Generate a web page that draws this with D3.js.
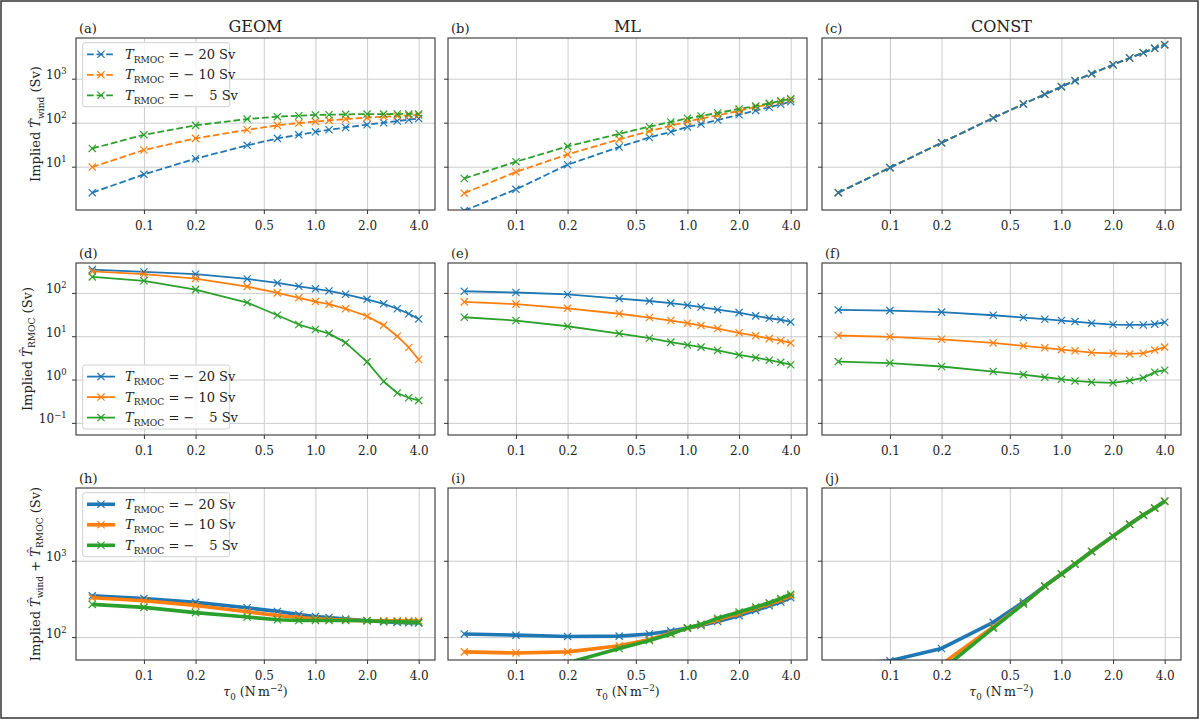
<!DOCTYPE html>
<html lang="en">
<head>
    <meta charset="UTF-8">
    <title>Implied transports</title>
    <script src="https://d3js.org/d3.v7.min.js"></script>
    <style>
        body { margin: 0; background: white; }
        svg { font-family: "DejaVu Serif", serif; }
        .grid line { stroke: #cccccc; stroke-width: 1; }
        .grid .domain { display: none; }
        .axis .domain { display: none; }
        .axis line { stroke: #333; stroke-width: 1; }
        .axis text { font-size: 12px; fill: #222; font-family: "DejaVu Serif", serif; }
    </style>
</head>
<body>
<svg id="fig" width="1200" height="720"></svg>
<script>
    // wind stress values (x axis)
    const tau = [0.05, 0.1, 0.2, 0.4, 0.6, 0.8, 1.0, 1.2, 1.5, 2.0, 2.5, 3.0, 3.5, 4.0];
    const xTicks = [0.1, 0.2, 0.5, 1.0, 2.0, 4.0];
    const rmocCases = ["\u2212\u00a020", "\u2212\u00a010", "\u2212\u00a0\u2007\u20095"];
    const colTitles = ["GEOM", "ML", "CONST"];
    const panelLabels = [["(a)", "(b)", "(c)"], ["(d)", "(e)", "(f)"], ["(h)", "(i)", "(j)"]];
    const yTicks = [[10, 100, 1000], [0.1, 1, 10, 100], [100, 1000]];

    // each panel: three series, T_RMOC = -20, -10, -5 Sv
    const geomWind = [
        [2.57, 6.7, 15.2, 30.6, 44, 53, 62, 69, 78, 90, 100, 109, 117, 124],
        [9.8, 24, 44, 69, 87, 98, 106, 113, 121, 130, 137, 142, 147, 150],
        [26, 53, 87, 121, 137, 144, 150, 152, 155, 157, 157, 158, 158, 158]
    ];
    const mlWind = [
        [1.0, 3.06, 11.1, 28, 46, 62, 80, 93, 115, 152, 190, 224, 262, 300],
        [2.5, 7.6, 19, 42, 64, 85, 106, 124, 147, 185, 228, 262, 300, 333],
        [5.4, 13, 29, 56, 81, 104, 126, 142, 166, 205, 240, 276, 316, 350]
    ];
    const constWind = [
        [2.57, 9.5, 35, 128, 266, 442, 658, 901, 1300, 2080, 2950, 3890, 4900, 5930],
        [2.57, 9.5, 35, 128, 266, 442, 658, 901, 1300, 2080, 2950, 3890, 4900, 5930],
        [2.57, 9.5, 35, 128, 266, 442, 658, 901, 1300, 2080, 2950, 3890, 4900, 5930]
    ];
    const geomRmoc = [
        [345, 305, 270, 210, 170, 142, 124, 111, 93, 71, 56, 43, 33, 25],
        [315, 270, 214, 140, 100, 77, 63, 55, 43, 29, 18, 10, 5.5, 2.9],
        [234, 190, 119, 60, 30.5, 18.6, 14.3, 11.5, 7.1, 2.56, 0.9, 0.49, 0.38, 0.33]
    ];
    const mlRmoc = [
        [109, 102, 92, 74, 65, 58, 52, 47, 41, 35, 29.5, 26, 24, 21.4],
        [62, 55, 44, 33, 27, 23, 20, 17.6, 15, 12, 10.2, 8.8, 7.9, 7.0],
        [27.4, 23, 17, 11.5, 9, 7.3, 6.3, 5.6, 4.7, 3.7, 3.2, 2.8, 2.5, 2.2]
    ];
    const constRmoc = [
        [40.5, 39, 36, 30.5, 27, 24.7, 23, 21.8, 20, 18.6, 18.2, 18.2, 19, 21],
        [10.4, 9.7, 8.5, 7.0, 6.0, 5.4, 4.9, 4.6, 4.2, 4.0, 3.9, 4.05, 4.8, 5.6],
        [2.6, 2.4, 2.0, 1.53, 1.3, 1.13, 1.02, 0.93, 0.87, 0.84, 0.95, 1.09, 1.48, 1.64]
    ];
    const geomTotal = [
        [347, 321, 285, 242, 217, 198, 186, 181, 172, 164, 159, 156, 154, 153],
        [327, 299, 260, 215, 192, 181, 174, 170, 167, 164, 164, 163, 163, 163],
        [268, 245, 209, 183, 169, 165, 165, 165, 165, 164, 160, 159, 158, 156]
    ];
    const mlTotal = [
        [110, 106, 102, 103, 110, 120, 131, 142, 160, 191, 224, 257, 288, 328],
        [64, 62, 64, 77, 93, 112, 131, 145, 168, 203, 238, 271, 306, 348],
        [32, 36, 46, 71, 90.5, 110, 132, 147, 177, 213, 248, 282, 321, 365]
    ];
    const constTotal = [
        [43, 49, 71, 156, 289, 466, 672, 906, 1320, 2100, 3000, 3980, 4900, 6030],
        [13, 19, 44, 136, 275, 466, 672, 906, 1320, 2100, 3000, 3980, 4900, 6030],
        [5.2, 12, 37, 131, 272, 466, 672, 906, 1320, 2100, 3000, 3980, 4900, 6030]
    ];

    const panels = [
        [geomWind, mlWind, constWind],
        [geomRmoc, mlRmoc, constRmoc],
        [geomTotal, mlTotal, constTotal]
    ];

    const colors = ["#1f77b4", "#ff7f0e", "#2ca02c"];

    // layout
    const colX = [76, 448, 822], panelW = 359;
    const rowY = [38, 263, 488], panelH = 172;
    const xPad = Math.pow(10, 0.0951);
    const xDomain = [tau[0] / xPad, tau[tau.length - 1] * xPad];
    const yDomains = [
        [Math.pow(10, 0.016), Math.pow(10, 3.925)],
        [Math.pow(10, -1.28), Math.pow(10, 2.69)],
        [Math.pow(10, 1.7), Math.pow(10, 3.953)]
    ];
    const lineStyles = [
        { width: 1.8, dash: "6.7,2.9" },
        { width: 1.8, dash: null },
        { width: 3.6, dash: null }
    ];

    const svg = d3.select("#fig");

    // figure frame
    svg.append("rect")
        .attr("x", 1).attr("y", 1)
        .attr("width", 1197).attr("height", 717)
        .attr("fill", "white")
        .attr("stroke", "#333")
        .attr("stroke-width", 1.5);

    const defs = svg.append("defs");
    const xMark = "M-3.6,-3.6L3.6,3.6M-3.6,3.6L3.6,-3.6";

    // writes text with italic / sub / sup parts as tspans
    function mathText(el, parts, size) {
        let shift = 0;
        parts.forEach(([str, kind]) => {
            const target = kind === "sub" ? 0.28 * size : kind === "sup" ? -0.42 * size : 0;
            const ts = el.append("tspan").text(str).attr("dy", target - shift);
            if (kind === "sub" || kind === "sup") ts.attr("font-size", size * 0.7);
            if (kind === "i") ts.attr("font-style", "italic");
            shift = target;
        });
    }

    function drawLegend(g, lx, ly, style) {
        const rowH = 20.5;
        g.append("rect")
            .attr("x", lx).attr("y", ly)
            .attr("width", 147).attr("height", 64)
            .attr("rx", 2.5)
            .attr("fill", "white").attr("fill-opacity", 0.8)
            .attr("stroke", "#d0d0d0");
        rmocCases.forEach((lab, k) => {
            const cy = ly + 11.6 + k * rowH;
            g.append("line")
                .attr("x1", lx + 4.3).attr("x2", lx + 32.3)
                .attr("y1", cy).attr("y2", cy)
                .attr("stroke", colors[k])
                .attr("stroke-width", style.width)
                .attr("stroke-dasharray", style.dash);
            g.append("path")
                .attr("d", xMark)
                .attr("transform", `translate(${lx + 18.3},${cy})`)
                .attr("stroke", colors[k]).attr("stroke-width", 1.2).attr("fill", "none");
            const t = g.append("text")
                .attr("x", lx + 42.3).attr("y", cy + 4.6)
                .attr("font-size", 13).attr("fill", "#222");
            mathText(t, [["T", "i"], ["RMOC", "sub"], ["\u00a0=\u00a0" + lab + "\u00a0Sv", "r"]], 13);
        });
    }

    panels.forEach((row, r) => {
        row.forEach((series, c) => {
            const x0 = colX[c], y0 = rowY[r];
            const x = d3.scaleLog().domain(xDomain).range([x0, x0 + panelW]);
            const y = d3.scaleLog().domain(yDomains[r]).range([y0 + panelH, y0]);
            const g = svg.append("g");

            // grid lines
            g.append("g").attr("class", "grid")
                .attr("transform", `translate(0,${y0 + panelH})`)
                .call(d3.axisBottom(x).tickValues(xTicks).tickSize(-panelH).tickFormat(""));
            g.append("g").attr("class", "grid")
                .attr("transform", `translate(${x0},0)`)
                .call(d3.axisLeft(y).tickValues(yTicks[r]).tickSize(-panelW).tickFormat(""));

            // clip to the axes box
            const clipId = `clip-${r}-${c}`;
            defs.append("clipPath").attr("id", clipId)
                .append("rect")
                .attr("x", x0).attr("y", y0)
                .attr("width", panelW).attr("height", panelH);

            const plot = g.append("g").attr("clip-path", `url(#${clipId})`);
            const style = lineStyles[r];
            const order = (r === 0 && c === 2) ? [2, 1, 0] : [0, 1, 2];
            const line = d3.line().x(d => x(d[0])).y(d => y(d[1]));

            order.forEach(k => {
                const pts = tau.map((t, i) => [t, series[k][i]]);
                plot.append("path")
                    .datum(pts)
                    .attr("d", line)
                    .attr("fill", "none")
                    .attr("stroke", colors[k])
                    .attr("stroke-width", style.width)
                    .attr("stroke-dasharray", style.dash)
                    .attr("stroke-linejoin", "round");
                plot.selectAll(null)
                    .data(pts)
                    .join("path")
                    .attr("d", xMark)
                    .attr("transform", d => `translate(${x(d[0])},${y(d[1])})`)
                    .attr("fill", "none")
                    .attr("stroke", colors[k])
                    .attr("stroke-width", 1.2);
            });

            // axes
            g.append("g").attr("class", "axis")
                .attr("transform", `translate(0,${y0 + panelH})`)
                .call(d3.axisBottom(x).tickValues(xTicks).tickFormat(d3.format(".1f"))
                    .tickSize(4).tickPadding(7.5));

            const yAxis = g.append("g").attr("class", "axis")
                .attr("transform", `translate(${x0},0)`)
                .call(d3.axisLeft(y).tickValues(yTicks[r]).tickSize(4).tickPadding(5.5)
                    .tickFormat(d => ""));
            if (c === 0) {
                yAxis.selectAll(".tick text").each(function(d) {
                    const t = d3.select(this);
                    const e = Math.round(Math.log10(d));
                    mathText(t, [["10", "r"], [String(e).replace("-", "\u2212"), "sup"]], 12);
                });
            }

            // spines
            g.append("rect")
                .attr("x", x0).attr("y", y0)
                .attr("width", panelW).attr("height", panelH)
                .attr("fill", "none")
                .attr("stroke", "#333")
                .attr("stroke-width", 1.1);

            // panel letter
            g.append("text")
                .attr("x", x0 + 3).attr("y", y0 - 5)
                .attr("font-size", 13).attr("fill", "#222")
                .text(panelLabels[r][c]);

            if (r === 0) {
                g.append("text")
                    .attr("x", x0 + panelW / 2).attr("y", 31.5)
                    .attr("text-anchor", "middle")
                    .attr("font-size", 16).attr("fill", "#222")
                    .text(colTitles[c]);
            }

            if (r === 2) {
                const t = g.append("text")
                    .attr("x", x0 + panelW / 2).attr("y", 696)
                    .attr("text-anchor", "middle")
                    .attr("font-size", 12.5).attr("fill", "#222");
                mathText(t, [["\u03c4", "i"], ["0", "sub"], ["\u00a0(N\u2009m", "r"], ["\u22122", "sup"], [")", "r"]], 12.5);
            }

            if (c === 0) {
                const ly = r === 1 ? y0 + panelH - 6 - 64 : y0 + 4.7;
                drawLegend(g, x0 + 6.7, ly, style);
            }
        });
    });

    // y labels
    const yLabels = [
        [["Implied\u00a0", "r"], ["T\u0302", "i"], ["wind", "sub"], ["\u00a0(Sv)", "r"]],
        [["Implied\u00a0", "r"], ["T\u0302", "i"], ["RMOC", "sub"], ["\u00a0(Sv)", "r"]],
        [["Implied\u00a0", "r"], ["T\u0302", "i"], ["wind", "sub"], ["\u00a0+\u00a0", "r"],
         ["T\u0302", "i"], ["RMOC", "sub"], ["\u00a0(Sv)", "r"]]
    ];
    const yLabelX = [40, 31.7, 39.7];
    yLabels.forEach((parts, r) => {
        const t = svg.append("text")
            .attr("transform", `translate(${yLabelX[r]},${rowY[r] + panelH / 2}) rotate(-90)`)
            .attr("text-anchor", "middle")
            .attr("font-size", 13).attr("fill", "#222");
        mathText(t, parts, 13);
    });
</script>
</body>
</html>
